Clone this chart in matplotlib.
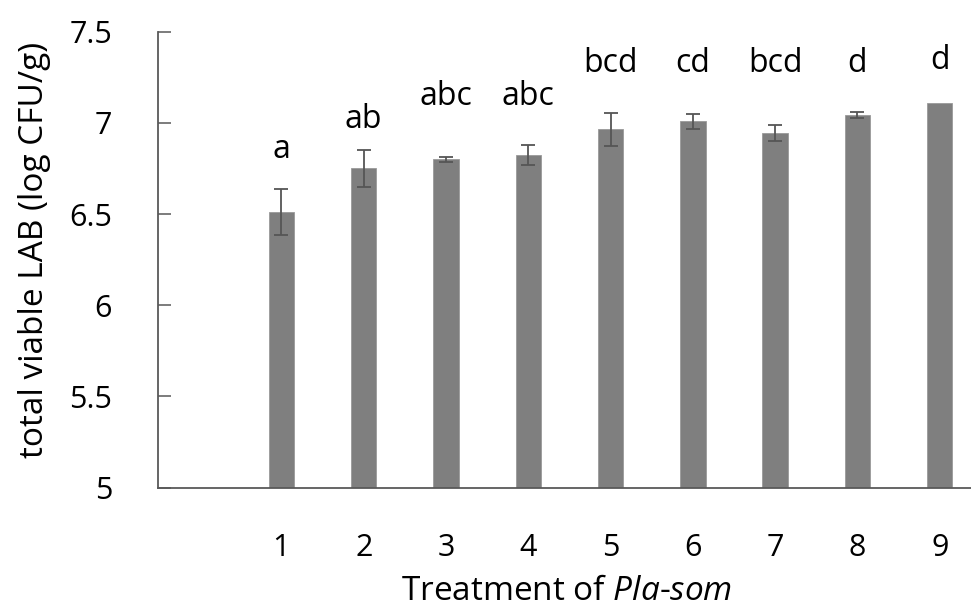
import matplotlib
matplotlib.use("Agg")
import matplotlib.pyplot as plt

plt.rcParams['font.family'] = ['Open Sans', 'DejaVu Sans']
plt.rcParams['mathtext.fontset'] = 'custom'
plt.rcParams['mathtext.rm'] = 'Open Sans'
plt.rcParams['mathtext.it'] = 'Open Sans:italic'

# données
treatments = [1, 2, 3, 4, 5, 6, 7, 8, 9]
lab_mean = [6.51, 6.75, 6.80, 6.825, 6.965, 7.008, 6.945, 7.042, 7.108]
lab_err = [0.125, 0.10, 0.012, 0.055, 0.09, 0.043, 0.046, 0.016, 0.0]
letters = ['a', 'ab', 'abc', 'abc', 'bcd', 'cd', 'bcd', 'd', 'd']
letter_y = [6.81, 6.97, 7.098, 7.098, 7.281, 7.281, 7.281, 7.281, 7.294]
y_ticks = [5, 5.5, 6, 6.5, 7, 7.5]
y_tick_labels = ['5', '5.5', '6', '6.5', '7', '7.5']

W, H = 971, 607
fig = plt.figure(figsize=(W / 100, H / 100), dpi=100)
ax = fig.add_axes([158 / W, 1 - 487.5 / H, (971 - 158) / W, (487.5 - 31.7) / H])

ax.bar(treatments, lab_mean, width=0.31, color='#7f7f7f',
       edgecolor='#9a9a9a', linewidth=0.6)

# barres d'erreur seulement là où il y en a
ex = [t for t, e in zip(treatments, lab_err) if e > 0]
ey = [m for m, e in zip(lab_mean, lab_err) if e > 0]
ee = [e for e in lab_err if e > 0]
ax.errorbar(ex, ey, yerr=ee, fmt='none', ecolor='#555555',
            elinewidth=1.3, capsize=5, capthick=1.3)

for x, lab, y in zip(treatments, letters, letter_y):
    ax.text(x, y, lab, ha='center', va='baseline', fontsize=23, color='black')

ax.set_xlim(-0.5, 9.38)
ax.set_ylim(5, 7.5)
ax.set_xticks(treatments)
ax.set_yticks(y_ticks)
ax.set_yticklabels(y_tick_labels)

ax.spines['top'].set_visible(False)
ax.spines['right'].set_visible(False)
for s in ('left', 'bottom'):
    ax.spines[s].set_color('#595959')
    ax.spines[s].set_linewidth(1.3)

ax.tick_params(axis='y', direction='in', length=9.4, width=1.1, color='#595959',
               labelsize=22, pad=33)
ax.tick_params(axis='x', length=0, labelsize=22, pad=33)

fig.text(35 / W, 1 - 250 / H, 'total viable LAB (log CFU/g)', rotation=90,
         ha='center', va='center', fontsize=24)
fig.text(567 / W, 1 - 591 / H, r'Treatment of $\it{Pla}$-$\it{som}$',
         ha='center', va='center', fontsize=24)

fig.savefig('out.png', dpi=100)
